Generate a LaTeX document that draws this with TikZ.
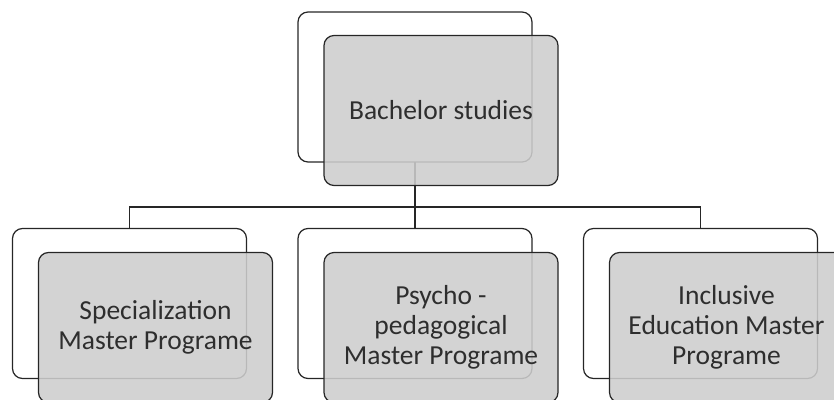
\documentclass[tikz,border=0pt]{standalone}
\usepackage{fontspec}
\setmainfont{Carlito}
\begin{document}
\begin{tikzpicture}[x=1pt,y=1pt,
  backbox/.style={draw=black!85, line width=1.2pt, rounded corners=10pt,
    minimum width=234pt, minimum height=150pt, inner sep=0pt, outer sep=0pt},
  frontbox/.style={backbox, fill={rgb,255:red,205;green,205;blue,205}, fill opacity=0.88,
    text opacity=1, text=black!82, align=center,
    font=\fontsize{27.5}{30}\selectfont},
  link/.style={draw=black!85, line width=1.2pt}]
\useasboundingbox (0,0) rectangle (834,-399);

% rear outlines
\node[backbox] (topback)   at (415,-87) {};
\node[backbox] (leftback)  at (129.5,-303.5) {};
\node[backbox] (midback)   at (415,-303.5) {};
\node[backbox] (rightback) at (700.5,-303.5) {};

% tree connectors
\draw[link] (topback.south) -- ++(0,-45) coordinate (hub);
\draw[link] (leftback.north) |- (hub) -| (rightback.north);
\draw[link] (hub) -- (midback.north);

% shaded front cards with labels
\node[frontbox] (topfront)   at (441,-110.5) {Bachelor studies};
\node[frontbox] (leftfront)  at (155.5,-327.5) {Specialization\\Master Programe};
\node[frontbox] (midfront)   at (441,-327.5) {Psycho -\\pedagogical\\Master Programe};
\node[frontbox] (rightfront) at (726.5,-327.5) {Inclusive\\Education Master\\Programe};
\end{tikzpicture}
\end{document}
